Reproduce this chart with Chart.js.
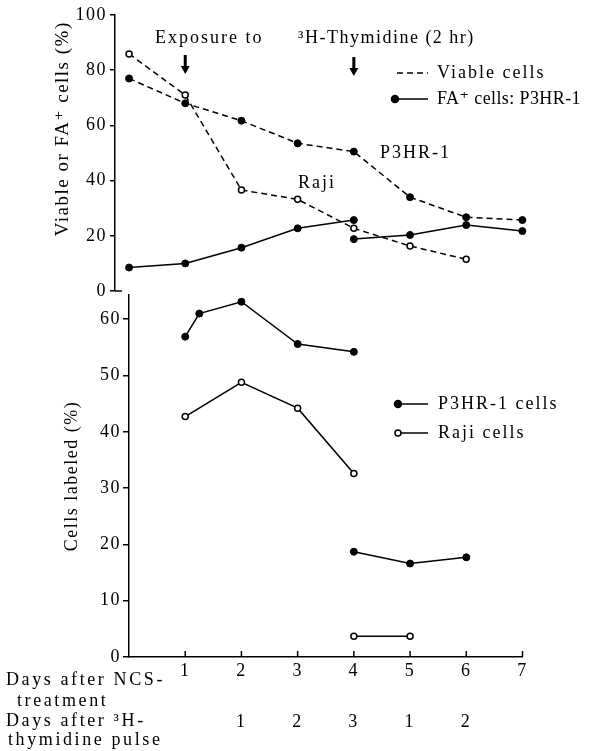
<!DOCTYPE html>
<html>
<head>
<meta charset="utf-8">
<script src="https://cdn.jsdelivr.net/npm/chart.js@4"></script>
<style>
  html, body { margin: 0; padding: 0; background: #fff; }
  #wrap { position: relative; width: 598px; height: 751px; }
  canvas { position: absolute; left: 0; top: 0; }
</style>
</head>
<body>
<div id="wrap">
  <canvas id="viable_chart" width="598" height="751"></canvas>
  <canvas id="labeled_chart" width="598" height="751"></canvas>
</div>
<script>
// days after NCS treatment, and days after the 3H-thymidine pulse
const days = [0, 1, 2, 3, 4, 5, 6, 7];
const pulseDays = ['', '', '1', '2', '3', '1', '2', ''];

// top panel: viable / FA+ cells (%)
const viableP3hr = [77, 68, 61.7, 53.5, 50.5, 34, 26.7, 25.7];
const viableRaji = [85.9, 71, 36.6, 33.2, 22.7, 16.3, 11.5];
const faDaysA = [0, 1, 2, 3, 4];
const faP3hrA = [8.5, 10, 15.7, 22.7, 25.7];
const faDaysB = [4, 5, 6, 7];
const faP3hrB = [18.8, 20.3, 23.9, 21.7];

// bottom panel: cells labeled (%)
const labP3hrDaysA = [1, 1.25, 2, 3, 4];
const labP3hrA = [56.9, 61, 63.1, 55.6, 54.2];
const labP3hrDaysB = [4, 5, 6];
const labP3hrB = [18.7, 16.6, 17.7];
const labRajiDaysA = [1, 2, 3, 4];
const labRajiA = [42.7, 48.8, 44.2, 32.6];
const labRajiDaysB = [4, 5];
const labRajiB = [3.7, 3.7];

const FONT = '"Liberation Serif", "DejaVu Serif", serif';
Chart.defaults.font.family = FONT;
Chart.defaults.font.size = 18;
Chart.defaults.color = '#000';

function pts(xs, ys) {
  return ys.map((y, i) => ({ x: xs[i], y: y }));
}

const filled = {
  borderColor: '#000', borderWidth: 1.5, pointRadius: 3.5,
  pointBackgroundColor: '#000', pointBorderColor: '#000', pointBorderWidth: 1
};
const open = {
  borderColor: '#000', borderWidth: 1.5, pointRadius: 3,
  pointBackgroundColor: '#fff', pointBorderColor: '#000', pointBorderWidth: 1.5
};

function text(ctx, str, x, y, align, gap) {
  ctx.save();
  ctx.font = '18px ' + FONT;
  ctx.fillStyle = '#000';
  ctx.textAlign = align || 'left';
  ctx.textBaseline = 'middle';
  ctx.letterSpacing = (gap === undefined ? 2 : gap) + 'px';
  ctx.fillText(str, x, y);
  ctx.restore();
}

function arrow(ctx, x, y0, y1) {
  ctx.save();
  ctx.fillStyle = '#000';
  ctx.fillRect(x - 1.5, y0, 3, y1 - y0 - 6);
  ctx.beginPath();
  ctx.moveTo(x - 4.5, y1 - 8);
  ctx.lineTo(x + 4.5, y1 - 8);
  ctx.lineTo(x, y1);
  ctx.closePath();
  ctx.fill();
  ctx.restore();
}

function dot(ctx, x, y, hollow) {
  ctx.save();
  ctx.beginPath();
  ctx.arc(x, y, hollow ? 3 : 3.5, 0, Math.PI * 2);
  ctx.fillStyle = hollow ? '#fff' : '#000';
  ctx.fill();
  ctx.lineWidth = 1.5;
  ctx.strokeStyle = '#000';
  ctx.stroke();
  ctx.restore();
}

function segment(ctx, x0, x1, y, dash) {
  ctx.save();
  ctx.strokeStyle = '#000';
  ctx.lineWidth = 1.5;
  if (dash) ctx.setLineDash([6, 4]);
  ctx.beginPath();
  ctx.moveTo(x0, y);
  ctx.lineTo(x1, y);
  ctx.stroke();
  ctx.restore();
}

const spacing = {
  id: 'spacing',
  beforeDraw(chart) { chart.ctx.letterSpacing = '1.5px'; }
};

const topNotes = {
  id: 'topNotes',
  afterDraw(chart) {
    const ctx = chart.ctx;
    const xs = chart.scales.x;
    const area = chart.chartArea;
    segment(ctx, area.left, area.left + 7, area.bottom, false);
    text(ctx, 'Exposure to', 155, 38);
    arrow(ctx, xs.getPixelForValue(1), 55, 74);
    text(ctx, '\u00b3H-Thymidine (2 hr)', 298, 38, 'left', 1.5);
    arrow(ctx, xs.getPixelForValue(4), 57, 76);
    segment(ctx, 397, 428, 73, true);
    text(ctx, 'Viable cells', 437, 73);
    segment(ctx, 395, 428, 99, false);
    dot(ctx, 395, 99, false);
    text(ctx, 'FA\u207a cells: P3HR-1', 437, 99, 'left', 0.4);
    text(ctx, 'P3HR-1', 380, 153);
    text(ctx, 'Raji', 298, 183);
  }
};

const bottomNotes = {
  id: 'bottomNotes',
  afterDraw(chart) {
    const ctx = chart.ctx;
    const xs = chart.scales.x;
    const area = chart.chartArea;
    ctx.save();
    ctx.strokeStyle = '#000';
    ctx.lineWidth = 1.5;
    days.forEach((d) => {
      if (d === 0) return;
      const px = xs.getPixelForValue(d);
      ctx.beginPath();
      ctx.moveTo(px, area.bottom);
      ctx.lineTo(px, area.bottom - 6);
      ctx.stroke();
    });
    ctx.restore();
    days.forEach((d, i) => {
      if (pulseDays[i]) text(ctx, pulseDays[i], xs.getPixelForValue(d), 722, 'center');
    });
    text(ctx, 'Days after NCS-', 6, 680, 'left', 2.6);
    text(ctx, 'treatment', 17, 701, 'left', 2.6);
    text(ctx, 'Days after \u00b3H-', 6, 721, 'left', 2.6);
    text(ctx, 'thymidine pulse', 8, 740, 'left', 2.6);
    segment(ctx, 398, 428, 404, false);
    dot(ctx, 398, 404, false);
    text(ctx, 'P3HR-1 cells', 438, 404);
    segment(ctx, 398, 428, 433, false);
    dot(ctx, 398, 433, true);
    text(ctx, 'Raji cells', 438, 433);
  }
};

const viable_ctx = document.getElementById('viable_chart').getContext('2d');
const labeled_ctx = document.getElementById('labeled_chart').getContext('2d');

const viableChart = new Chart(viable_ctx, {
  type: 'line',
  data: {
    datasets: [
      Object.assign({ label: 'Viable P3HR-1', data: pts(days, viableP3hr), borderDash: [6, 4] }, filled),
      Object.assign({ label: 'Viable Raji', data: pts(days, viableRaji), borderDash: [6, 4] }, open),
      Object.assign({ label: 'FA+ P3HR-1', data: pts(faDaysA, faP3hrA) }, filled),
      Object.assign({ label: 'FA+ P3HR-1 (after pulse)', data: pts(faDaysB, faP3hrB) }, filled)
    ]
  },
  options: {
    responsive: false,
    animation: false,
    layout: { padding: { left: 0, top: 15, right: 47.5, bottom: 460 } },
    plugins: { legend: { display: false }, tooltip: { enabled: false } },
    scales: {
      x: { type: 'linear', min: -0.25, max: 7.5, display: false },
      y: {
        min: 0, max: 100,
        ticks: { stepSize: 20, padding: 3 },
        grid: { drawOnChartArea: false, tickLength: 5, color: '#000', lineWidth: 1.5 },
        border: { color: '#000', width: 1.5 },
        title: {
          display: true, text: 'Viable or FA\u207a cells (%) ', align: 'end',
          font: { size: 19 },
          padding: { top: 52, bottom: 0 }
        },
        afterFit: (s) => { s.width = 115; }
      }
    }
  },
  plugins: [spacing, topNotes]
});

const labeledChart = new Chart(labeled_ctx, {
  type: 'line',
  data: {
    datasets: [
      Object.assign({ label: 'P3HR-1 cells', data: pts(labP3hrDaysA, labP3hrA) }, filled),
      Object.assign({ label: 'P3HR-1 cells (after pulse)', data: pts(labP3hrDaysB, labP3hrB) }, filled),
      Object.assign({ label: 'Raji cells', data: pts(labRajiDaysA, labRajiA) }, open),
      Object.assign({ label: 'Raji cells (after pulse)', data: pts(labRajiDaysB, labRajiB) }, open)
    ]
  },
  options: {
    responsive: false,
    animation: false,
    layout: { padding: { left: 0, top: 295, right: 75.5, bottom: 64 } },
    plugins: { legend: { display: false }, tooltip: { enabled: false } },
    scales: {
      x: {
        type: 'linear', min: 0, max: 7,
        ticks: { stepSize: 1, padding: 3, autoSkip: false, maxRotation: 0,
                 callback: (v) => (v === 0 ? '' : v) },
        grid: { drawOnChartArea: false, drawTicks: false },
        border: { color: '#000', width: 1.5 },
        afterFit: (s) => { s.height = 30; }
      },
      y: {
        min: 0, max: 64.3,
        ticks: { stepSize: 10, padding: 2, includeBounds: false },
        grid: { drawOnChartArea: false, tickLength: 6, color: '#000', lineWidth: 1.5 },
        border: { color: '#000', width: 1.5 },
        title: {
          display: true, text: 'Cells labeled (%)',
          padding: { top: 61, bottom: 0 }
        },
        afterFit: (s) => { s.width = 129; }
      }
    }
  },
  plugins: [spacing, bottomNotes]
});
</script>
</body>
</html>
